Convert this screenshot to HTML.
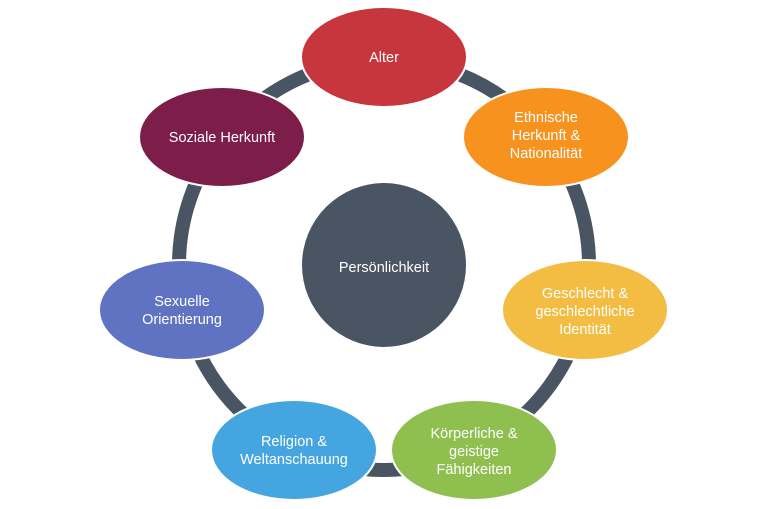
<!DOCTYPE html>
<html><head><meta charset="utf-8"><style>
html,body{margin:0;padding:0;background:#fff;}
svg{display:block;}
text{font-family:"Liberation Sans",sans-serif;fill:#fff;font-size:14.5px;text-anchor:middle;}
</style></head><body>
<svg width="768" height="509" viewBox="0 0 768 509">
<circle cx="384" cy="265" r="205" fill="none" stroke="#4a5563" stroke-width="14"/>
<circle cx="384" cy="265" r="82" fill="#4a5563"/>
<text x="384" y="272" font-size="18">Persönlichkeit</text>
<g stroke="#fff" stroke-width="2">
<ellipse cx="384" cy="57" rx="83" ry="50" fill="#c8363d"/>
<ellipse cx="546" cy="137" rx="83" ry="50" fill="#f7921e"/>
<ellipse cx="585" cy="310" rx="83" ry="50" fill="#f2bd42"/>
<ellipse cx="474" cy="450" rx="83" ry="50" fill="#8fbf4f"/>
<ellipse cx="294" cy="450" rx="83" ry="50" fill="#45a5e0"/>
<ellipse cx="182" cy="310" rx="83" ry="50" fill="#5f73c2"/>
<ellipse cx="222" cy="137" rx="83" ry="50" fill="#7d1d4a"/>
</g>
<text x="384" y="62">Alter</text>
<text x="546" y="122">Ethnische</text>
<text x="546" y="140">Herkunft &amp;</text>
<text x="546" y="158">Nationalität</text>
<text x="585" y="298">Geschlecht &amp;</text>
<text x="585" y="316">geschlechtliche</text>
<text x="585" y="334">Identität</text>
<text x="474" y="438">Körperliche &amp;</text>
<text x="474" y="456">geistige</text>
<text x="474" y="474">Fähigkeiten</text>
<text x="294" y="446">Religion &amp;</text>
<text x="294" y="464">Weltanschauung</text>
<text x="182" y="306">Sexuelle</text>
<text x="182" y="324">Orientierung</text>
<text x="222" y="142">Soziale Herkunft</text>
</svg>
</body></html>
